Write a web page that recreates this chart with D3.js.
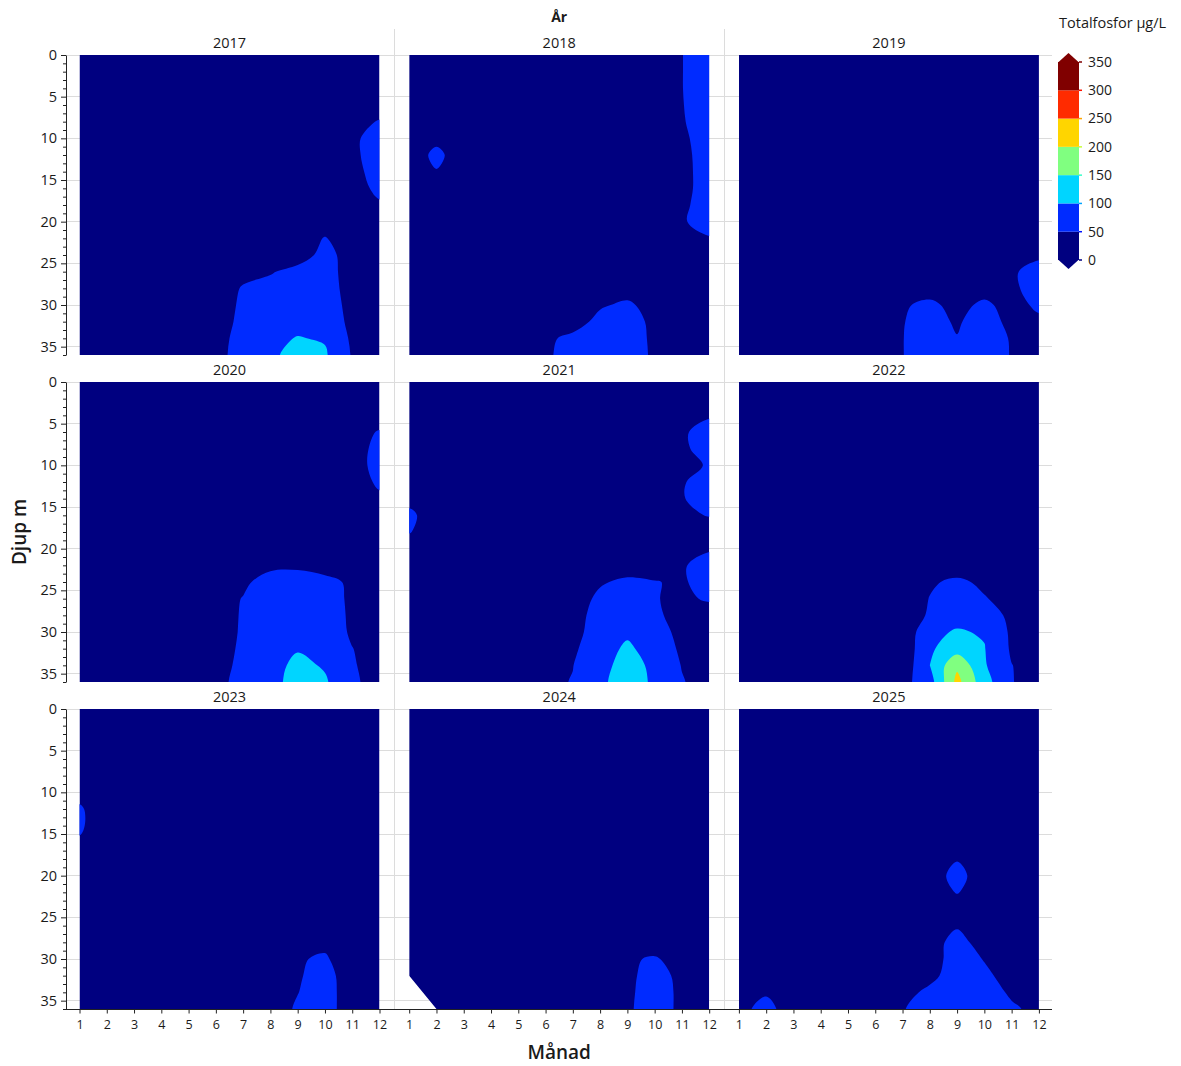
<!DOCTYPE html>
<html>
<head>
<meta charset="utf-8">
<script src="https://cdn.jsdelivr.net/npm/d3@7"></script>
<style>
  html, body { margin: 0; padding: 0; background: #ffffff; }
  svg text { font-family: "Open Sans", "Noto Sans", "DejaVu Sans", sans-serif; fill: #1a1a1a; }
</style>
</head>
<body>
<svg id="chart" width="1181" height="1066"></svg>
<script>
// ---------------- DATA ----------------
const years = [2017, 2018, 2019, 2020, 2021, 2022, 2023, 2024, 2025];
const months = [1, 2, 3, 4, 5, 6, 7, 8, 9, 10, 11, 12];
const depths = [0, 2, 4, 6, 8, 10, 12, 14, 16, 18, 20, 22, 24, 26, 28, 30, 32, 34, 36];
const levels = [0, 50, 100, 150, 200, 250, 300, 350];
const depthTicks = [0, 5, 10, 15, 20, 25, 30, 35];
const bandColors = ["#000080", "#002BFF", "#00D5FF", "#80FF80", "#FFD500", "#FF2B00", "#800000"];

// Totalfosfor (µg/L) per depth row (0..36 m) and month (1..12)
const grid2017 = [
 [30,30,30,30,30,30,30,30,30,30,30,30],
 [30,30,30,30,30,30,30,30,30,30,30,30],
 [30,30,30,30,30,30,30,30,30,30,30,30],
 [30,30,30,30,30,30,30,30,30,30,30,35],
 [30,30,30,30,30,30,30,30,30,30,40,52],
 [30,30,30,30,30,30,30,30,30,30,41,70],
 [30,30,30,30,30,30,30,30,30,30,41,70],
 [30,30,30,30,30,30,30,30,30,30,36,68],
 [30,30,30,30,30,30,30,30,30,30,32,60],
 [30,30,30,30,30,30,30,30,30,30,30,45],
 [30,30,30,30,30,30,30,30,30,30,30,30],
 [30,30,30,30,30,30,30,30,30,52,30,30],
 [30,30,30,30,30,30,30,30,20,70,24,30],
 [30,30,30,30,30,30,40,45,70,72,26,30],
 [30,30,30,30,30,30,53,70,75,75,28,30],
 [30,30,30,30,30,30,57,75,78,78,33,30],
 [30,30,30,30,30,30,61,80,88,85,36,30],
 [30,30,30,30,30,30,70,90,102,96,42,30],
 [30,30,30,30,30,35,70,84,130,106,46,30]
];
const grid2018 = [
 [30,30,30,30,30,30,30,30,30,30,49,75],
 [30,30,30,30,30,30,30,30,30,30,49,75],
 [30,30,30,30,30,30,30,30,30,30,49,75],
 [30,30,30,30,30,30,30,30,30,30,48,75],
 [30,30,30,30,30,30,30,30,30,30,46,75],
 [30,40,30,30,30,30,30,30,30,30,40,75],
 [27,60,27,30,30,30,30,30,30,30,35,75],
 [30,48,30,30,30,30,30,30,30,30,33,75],
 [30,30,30,30,30,30,30,30,30,30,33,75],
 [30,30,30,30,30,30,30,30,30,30,39,75],
 [30,30,30,30,30,30,30,30,30,30,47,62],
 [30,30,30,30,30,30,30,30,30,30,30,48],
 [30,30,30,30,30,30,30,30,30,30,30,30],
 [30,30,30,30,30,30,30,30,30,30,30,30],
 [30,30,30,30,30,30,30,30,30,30,30,30],
 [30,30,30,30,30,30,30,45,58,31,30,30],
 [30,30,30,30,30,30,31,63,70,39,30,30],
 [30,30,30,30,30,42,60,70,75,40,30,30],
 [30,30,30,30,30,42,70,72,75,42,30,30]
];
const grid2019 = [
 [30,30,30,30,30,30,30,30,30,30,30,30],
 [30,30,30,30,30,30,30,30,30,30,30,30],
 [30,30,30,30,30,30,30,30,30,30,30,30],
 [30,30,30,30,30,30,30,30,30,30,30,30],
 [30,30,30,30,30,30,30,30,30,30,30,30],
 [30,30,30,30,30,30,30,30,30,30,30,30],
 [30,30,30,30,30,30,30,30,30,30,30,30],
 [30,30,30,30,30,30,30,30,30,30,30,30],
 [30,30,30,30,30,30,30,30,30,30,30,30],
 [30,30,30,30,30,30,30,30,30,30,30,30],
 [30,30,30,30,30,30,30,30,30,30,30,30],
 [30,30,30,30,30,30,30,30,30,30,30,30],
 [30,30,30,30,30,30,30,30,30,30,30,41],
 [30,30,30,30,30,30,30,30,30,30,43,70],
 [30,30,30,30,30,30,30,30,30,30,41,70],
 [30,30,30,30,30,30,45,60,35,60,31,60],
 [30,30,30,30,30,30,48,68,44,75,35,40],
 [30,30,30,30,30,30,49,70,52,70,47,30],
 [30,30,30,30,30,30,49,70,60,70,48,30]
];
const grid2020 = [
 [30,30,30,30,30,30,30,30,30,30,30,30],
 [30,30,30,30,30,30,30,30,30,30,30,30],
 [30,30,30,30,30,30,30,30,30,30,30,35],
 [30,30,30,30,30,30,30,30,30,30,39,52],
 [30,30,30,30,30,30,30,30,30,30,20,70],
 [30,30,30,30,30,30,30,30,30,30,25,70],
 [30,30,30,30,30,30,30,30,30,30,20,60],
 [30,30,30,30,30,30,30,30,30,30,30,40],
 [30,30,30,30,30,30,30,30,30,30,30,30],
 [30,30,30,30,30,30,30,30,30,30,30,30],
 [30,30,30,30,30,30,30,30,30,30,30,30],
 [30,30,30,30,30,30,30,39,42,28,30,30],
 [30,30,30,30,30,30,41,70,70,65,41,30],
 [30,30,30,30,30,30,52,75,75,72,41,30],
 [30,30,30,30,30,30,54,80,82,75,42,30],
 [30,30,30,30,30,30,55,85,88,80,43,30],
 [30,30,30,30,30,30,58,90,97,88,51,30],
 [30,30,30,30,30,30,63,85,110,96,55,27],
 [30,30,30,30,30,30,73,79,125,105,65,15]
];
const grid2021 = [
 [30,30,30,30,30,30,30,30,30,30,30,30],
 [30,30,30,30,30,30,30,30,30,30,30,30],
 [30,30,30,30,30,30,30,30,30,30,30,45],
 [30,30,30,30,30,30,30,30,30,30,43,70],
 [30,30,30,30,30,30,30,30,30,30,41,70],
 [30,30,30,30,30,30,30,30,30,30,30,56],
 [30,30,30,30,30,30,30,30,30,30,48,60],
 [35,30,30,30,30,30,30,30,30,30,47,70],
 [62,20,30,30,30,30,30,30,30,30,42,52],
 [52,30,30,30,30,30,30,30,30,30,30,30],
 [30,30,30,30,30,30,30,30,30,30,30,45],
 [30,30,30,30,30,30,30,30,35,30,45,70],
 [30,30,30,30,30,30,30,47,56,52,44,70],
 [30,30,30,30,30,30,36,56,72,52,42,55],
 [30,30,30,30,30,30,30,70,80,60,30,30],
 [30,30,30,30,30,30,33,75,92,70,37,30],
 [30,30,30,30,30,30,42,80,108,80,42,30],
 [30,30,30,30,30,30,49,85,118,90,48,30],
 [30,30,30,30,30,40,52,88,130,90,53,30]
];
const grid2022 = [
 [30,30,30,30,30,30,30,30,30,30,30,30],
 [30,30,30,30,30,30,30,30,30,30,30,30],
 [30,30,30,30,30,30,30,30,30,30,30,30],
 [30,30,30,30,30,30,30,30,30,30,30,30],
 [30,30,30,30,30,30,30,30,30,30,30,30],
 [30,30,30,30,30,30,30,30,30,30,30,30],
 [30,30,30,30,30,30,30,30,30,30,30,30],
 [30,30,30,30,30,30,30,30,30,30,30,30],
 [30,30,30,30,30,30,30,30,30,30,30,30],
 [30,30,30,30,30,30,30,30,30,30,30,30],
 [30,30,30,30,30,30,30,30,30,30,30,30],
 [30,30,30,30,30,30,30,30,32,30,30,30],
 [30,30,30,30,30,30,30,46,56,44,30,30],
 [30,30,30,30,30,30,30,51,72,52,39,30],
 [30,30,30,30,30,30,30,54,85,70,41,30],
 [30,30,30,30,30,30,10,90,104,96,42,30],
 [30,30,30,30,30,30,15,93,128,102,44,30],
 [30,30,30,30,30,30,17,100,190,105,51,30],
 [30,30,30,30,30,30,35,78,215,120,52,30]
];
const grid2023 = [
 [30,30,30,30,30,30,30,30,30,30,30,30],
 [30,30,30,30,30,30,30,30,30,30,30,30],
 [30,30,30,30,30,30,30,30,30,30,30,30],
 [30,30,30,30,30,30,30,30,30,30,30,30],
 [30,30,30,30,30,30,30,30,30,30,30,30],
 [35,30,30,30,30,30,30,30,30,30,30,30],
 [56,20,30,30,30,30,30,30,30,30,30,30],
 [57,20,30,30,30,30,30,30,30,30,30,30],
 [45,30,30,30,30,30,30,30,30,30,30,30],
 [30,30,30,30,30,30,30,30,30,30,30,30],
 [30,30,30,30,30,30,30,30,30,30,30,30],
 [30,30,30,30,30,30,30,30,30,30,30,30],
 [30,30,30,30,30,30,30,30,30,30,30,30],
 [30,30,30,30,30,30,30,30,30,30,30,30],
 [30,30,30,30,30,30,30,30,30,39,30,30],
 [30,30,30,30,30,30,30,30,46,56,20,30],
 [30,30,30,30,30,30,30,30,45,70,20,30],
 [30,30,30,30,30,30,30,30,49,70,24,30],
 [30,30,30,30,30,30,30,30,55,70,24,30]
];
const grid2024 = [
 [30,30,30,30,30,30,30,30,30,30,30,30],
 [30,30,30,30,30,30,30,30,30,30,30,30],
 [30,30,30,30,30,30,30,30,30,30,30,30],
 [30,30,30,30,30,30,30,30,30,30,30,30],
 [30,30,30,30,30,30,30,30,30,30,30,30],
 [30,30,30,30,30,30,30,30,30,30,30,30],
 [30,30,30,30,30,30,30,30,30,30,30,30],
 [30,30,30,30,30,30,30,30,30,30,30,30],
 [30,30,30,30,30,30,30,30,30,30,30,30],
 [30,30,30,30,30,30,30,30,30,30,30,30],
 [30,30,30,30,30,30,30,30,30,30,30,30],
 [30,30,30,30,30,30,30,30,30,30,30,30],
 [30,30,30,30,30,30,30,30,30,30,30,30],
 [30,30,30,30,30,30,30,30,30,30,30,30],
 [30,30,30,30,30,30,30,30,30,25,30,30],
 [30,30,30,30,30,30,30,30,44,55,30,30],
 [30,30,30,30,30,30,30,30,39,70,37,30],
 [30,30,30,30,30,30,30,30,42,70,41,30],
 [30,30,30,30,30,30,30,30,44,70,41,30]
];
const grid2025 = [
 [30,30,30,30,30,30,30,30,30,30,30,30],
 [30,30,30,30,30,30,30,30,30,30,30,30],
 [30,30,30,30,30,30,30,30,30,30,30,30],
 [30,30,30,30,30,30,30,30,30,30,30,30],
 [30,30,30,30,30,30,30,30,30,30,30,30],
 [30,30,30,30,30,30,30,30,30,30,30,30],
 [30,30,30,30,30,30,30,30,30,30,30,30],
 [30,30,30,30,30,30,30,30,30,30,30,30],
 [30,30,30,30,30,30,30,30,30,30,30,30],
 [30,30,30,30,30,30,30,30,48,30,30,30],
 [30,30,30,30,30,30,30,32,62,30,30,30],
 [30,30,30,30,30,30,30,30,52,30,30,30],
 [30,30,30,30,30,30,30,30,30,30,30,30],
 [30,30,30,30,30,30,30,30,46,30,30,30],
 [30,30,30,30,30,30,30,32,65,32,30,30],
 [30,30,30,30,30,30,30,30,70,48,30,30],
 [30,30,30,30,30,30,30,38,72,58,35,30],
 [30,45,30,30,30,30,35,60,75,66,45,30],
 [37,65,25,30,30,30,48,65,78,70,55,41]
];
// area without measurements (month, depth)
const missing2024 = [[1, 32], [2, 36], [1, 36]];

const grids = [grid2017, grid2018, grid2019, grid2020, grid2021, grid2022, grid2023, grid2024, grid2025];
const missingByYear = { 2024: missing2024 };

// ---------------- LAYOUT ----------------
const svg = d3.select("#chart");
const defs = svg.append("defs");
const panelW = 300, panelH = 300;
const colLeft = [79.5, 409.2, 738.9];
const rowTop = [55, 382, 709];
const axisX = 66, axisRight = 1052;
const sepTop = 29;
const gridColor = "#DCDCDC";

const yByRow = rowTop.map(t => d3.scaleLinear().domain([0, 36]).range([t, t + panelH]));
const xByCol = colLeft.map(l => d3.scaleLinear().domain([1, 12]).range([l, l + panelW]));

// Grid lines (behind panels)
const gridG = svg.append("g").attr("shape-rendering", "crispEdges");
yByRow.forEach(y => {
  depthTicks.forEach(d => {
    gridG.append("line")
      .attr("x1", axisX).attr("x2", axisRight)
      .attr("y1", y(d)).attr("y2", y(d))
      .attr("stroke", gridColor).attr("stroke-width", 1);
  });
});
[0, 1].forEach(c => {
  const xs = (colLeft[c] + panelW + colLeft[c + 1]) / 2;
  gridG.append("line")
    .attr("x1", xs).attr("x2", xs)
    .attr("y1", sepTop).attr("y2", rowTop[2] + panelH)
    .attr("stroke", gridColor).attr("stroke-width", 1);
});

// ---------------- PANELS ----------------
const contourThresholds = levels.slice(1, 7);
const ringLine = d3.line().curve(d3.curveCatmullRomClosed.alpha(0.5));
const polyLine = d3.line().curve(d3.curveLinearClosed);

years.forEach((year, i) => {
  const r = Math.floor(i / 3), c = i % 3;
  const x = xByCol[c], y = yByRow[r];
  const grid = grids[i];

  // clip (panel area minus regions without measurements)
  const clipId = "clip" + year;
  let clipD = `M${x(1)},${y(0)}H${x(12)}V${y(36)}H${x(1)}Z`;
  if (missingByYear[year]) {
    clipD += polyLine(missingByYear[year].map(p => [x(p[0]), y(p[1])]));
  }
  defs.append("clipPath").attr("id", clipId)
    .append("path").attr("d", clipD).attr("clip-rule", "evenodd");

  const g = svg.append("g").attr("clip-path", `url(#${clipId})`);

  // padded value grid (edge values replicated one cell outward)
  const nx = months.length + 2, ny = depths.length + 2;
  const values = new Array(nx * ny);
  for (let j = 0; j < ny; j++) {
    const jj = Math.min(Math.max(j - 1, 0), depths.length - 1);
    for (let k = 0; k < nx; k++) {
      const kk = Math.min(Math.max(k - 1, 0), months.length - 1);
      values[j * nx + k] = grid[jj][kk];
    }
  }
  const dm = months[1] - months[0], dd = depths[1] - depths[0];
  const toPx = p => [x(months[0] + (p[0] - 1.5) * dm), y(depths[0] + (p[1] - 1.5) * dd)];

  g.append("rect")
    .attr("x", x(1)).attr("y", y(0))
    .attr("width", x(12) - x(1)).attr("height", y(36) - y(0))
    .attr("fill", bandColors[0]);

  const cs = d3.contours().size([nx, ny]).thresholds(contourThresholds)(values);
  cs.forEach((cont, k) => {
    if (!cont.coordinates.length) return;
    const d = cont.coordinates.map(poly =>
      poly.map(ring => ringLine(ring.slice(0, ring.length - 1).map(toPx))).join("")
    ).join("");
    g.append("path").attr("d", d)
      .attr("fill", bandColors[k + 1])
      .attr("fill-rule", "evenodd");
  });

  // panel title
  svg.append("text")
    .attr("x", x(6.5)).attr("y", y(0) - 7)
    .attr("text-anchor", "middle")
    .attr("font-size", "14.5px")
    .text(year);
});

// ---------------- AXES ----------------
yByRow.forEach(y => {
  const gMinor = svg.append("g").attr("transform", `translate(${axisX},0)`);
  gMinor.call(d3.axisLeft(y).tickValues(d3.range(0, 37).filter(v => v % 5 !== 0))
    .tickSize(3).tickSizeOuter(0).tickFormat(""));
  gMinor.select(".domain").remove();
  const gMaj = svg.append("g").attr("transform", `translate(${axisX},0)`);
  gMaj.call(d3.axisLeft(y).tickValues(depthTicks).tickSize(5).tickSizeOuter(0).tickPadding(4));
  gMaj.selectAll("text").attr("font-size", "14.5px").attr("font-family", null).style("fill", "#1a1a1a");
  svg.selectAll(".tick line").attr("stroke", "#222");
  gMaj.select(".domain").attr("stroke", "#222");
});

const xAxisY = rowTop[2] + panelH + 0.5;
xByCol.forEach(x => {
  const gx = svg.append("g").attr("transform", `translate(0,${xAxisY})`);
  gx.call(d3.axisBottom(x).tickValues(months).tickSize(4).tickSizeOuter(0).tickPadding(7));
  gx.select(".domain").remove();
  gx.selectAll("text").attr("font-size", "12.5px").attr("font-family", null).style("fill", "#1a1a1a");
  gx.selectAll(".tick line").attr("stroke", "#222");
});
svg.append("line")
  .attr("x1", axisX).attr("x2", axisRight)
  .attr("y1", xAxisY).attr("y2", xAxisY)
  .attr("stroke", "#222").attr("stroke-width", 1);

// ---------------- TITLES ----------------
svg.append("text")
  .attr("x", (colLeft[0] + colLeft[2] + panelW) / 2).attr("y", 22)
  .attr("text-anchor", "middle").attr("font-size", "14px").attr("font-weight", 700)
  .text("År");
svg.append("text")
  .attr("x", (colLeft[0] + colLeft[2] + panelW) / 2).attr("y", 1059)
  .attr("text-anchor", "middle").attr("font-size", "19px").attr("font-weight", 600)
  .text("Månad");
svg.append("text")
  .attr("transform", `translate(26,${(rowTop[0] + rowTop[2] + panelH) / 2}) rotate(-90)`)
  .attr("text-anchor", "middle").attr("font-size", "19px").attr("font-weight", 600)
  .text("Djup m");

// ---------------- LEGEND ----------------
const lx0 = 1058, lx1 = 1079;
const ls = d3.scaleLinear().domain([0, 350]).range([260, 62]);
const lg = svg.append("g");
for (let k = 0; k < 7; k++) {
  lg.append("rect")
    .attr("x", lx0).attr("width", lx1 - lx0)
    .attr("y", ls(levels[k + 1])).attr("height", ls(levels[k]) - ls(levels[k + 1]))
    .attr("fill", bandColors[k]);
}
const mid = (lx0 + lx1) / 2;
lg.append("path")
  .attr("d", `M${lx0},${ls(350) + 0.5}L${mid},${ls(350) - 9}L${lx1},${ls(350) + 0.5}Z`)
  .attr("fill", bandColors[6]);
lg.append("path")
  .attr("d", `M${lx0},${ls(0) - 0.5}L${mid},${ls(0) + 9}L${lx1},${ls(0) - 0.5}Z`)
  .attr("fill", bandColors[0]);
function jet(t) {
  const ch = v => Math.round(255 * Math.max(0, Math.min(1, 1.5 - Math.abs(4 * t - v))));
  return `rgb(${ch(3)},${ch(2)},${ch(1)})`;
}
levels.forEach(v => {
  lg.append("line")
    .attr("x1", lx1).attr("x2", lx1 + 3)
    .attr("y1", ls(v)).attr("y2", ls(v))
    .attr("stroke", jet(v / 350)).attr("stroke-width", 1.5);
  lg.append("text")
    .attr("x", 1088).attr("y", ls(v)).attr("dy", "0.35em")
    .attr("font-size", "14px")
    .text(v);
});
lg.append("text")
  .attr("x", 1059).attr("y", 28)
  .attr("font-size", "14.5px")
  .text("Totalfosfor µg/L");
</script>
</body>
</html>
